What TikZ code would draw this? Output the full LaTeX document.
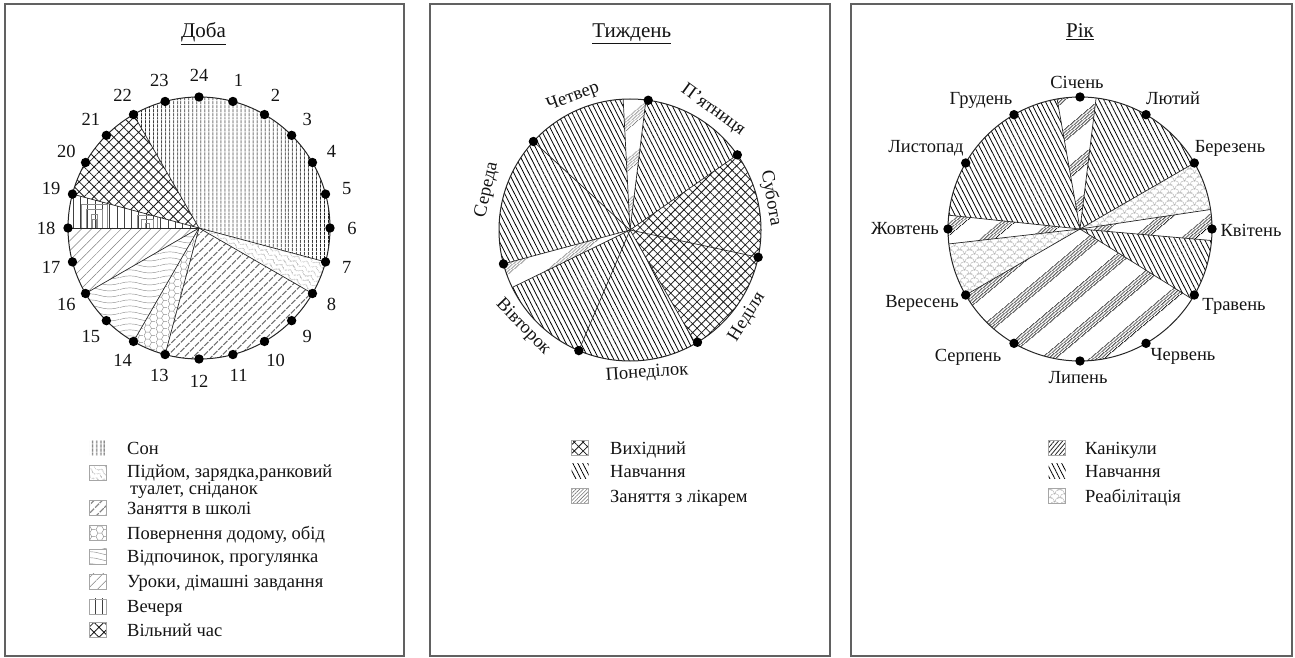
\documentclass[tikz,border=0pt]{standalone}
\usepackage{fontspec}
\setmainfont{Liberation Serif}
\usetikzlibrary{patterns,patterns.meta}
\definecolor{txt}{gray}{0.08}
\definecolor{framec}{gray}{0.38}

\tikzdeclarepattern{
  name=bandlines, type=uncolored,
  bounding box={(0pt,0pt) and (4pt,32pt)},
  tile size={(4pt,32pt)},
  tile transformation={rotate=40},
  code={
    \draw[line width=0.75pt] (-1pt,1pt) -- (5pt,1pt);
    \draw[line width=0.75pt] (-1pt,3.3pt) -- (5pt,3.3pt);
    \draw[line width=0.75pt] (-1pt,5.6pt) -- (5pt,5.6pt);
    \draw[line width=0.75pt] (-1pt,7.9pt) -- (5pt,7.9pt);
    \draw[line width=0.75pt] (-1pt,10.2pt) -- (5pt,10.2pt);
  }
}
\tikzdeclarepattern{
  name=hexcells, type=uncolored,
  bounding box={(0pt,0pt) and (12pt,6.928pt)},
  tile size={(12pt,6.928pt)},
  code={
    \draw[line width=0.45pt] (0pt,3.464pt) -- (2pt,6.928pt) -- (6pt,6.928pt) -- (8pt,3.464pt) -- (6pt,0pt) -- (2pt,0pt) -- cycle;
    \draw[line width=0.45pt] (8pt,3.464pt) -- (12pt,3.464pt);
  }
}
\tikzdeclarepattern{
  name=wavelines, type=uncolored,
  bounding box={(0pt,0pt) and (40pt,6pt)},
  tile size={(40pt,6pt)},
  code={
    \draw[line width=0.5pt] (0pt,3pt) .. controls (6.7pt,5.4pt) and (13.3pt,5.4pt) .. (20pt,3pt) .. controls (26.7pt,0.6pt) and (33.3pt,0.6pt) .. (40pt,3pt);
  }
}
\tikzdeclarepattern{
  name=chevrons, type=uncolored,
  bounding box={(0pt,0pt) and (10pt,5pt)},
  tile size={(10pt,5pt)},
  tile transformation={rotate=-30},
  code={
    \draw[line width=0.45pt] (0pt,0.5pt) -- (5pt,4.5pt) -- (10pt,0.5pt);
  }
}
\tikzdeclarepattern{
  name=scallops, type=uncolored,
  bounding box={(0pt,0pt) and (10pt,8pt)},
  tile size={(10pt,8pt)},
  code={
    \draw[line width=0.45pt] (0pt,0pt) arc[start angle=180,end angle=0,radius=5pt];
    \draw[line width=0.45pt] (-5pt,4pt) arc[start angle=180,end angle=0,radius=5pt] arc[start angle=180,end angle=0,radius=5pt];
    \draw[line width=0.45pt] (-5pt,-4pt) arc[start angle=180,end angle=0,radius=5pt] arc[start angle=180,end angle=0,radius=5pt];
  }
}

\newcommand\pieSec[3]{(0,0) -- ({90-(#1)}:#3pt) arc[start angle={90-(#1)}, end angle={90-(#2)}, radius=#3pt] -- cycle}

\tikzset{
  lbl/.style={font=\fontsize{18.5}{20}\selectfont, text=txt, inner sep=0pt},
  ttl/.style={font=\fontsize{21}{23}\selectfont, text=txt, inner sep=0pt, anchor=base},
  leg/.style={font=\fontsize{18.5}{17}\selectfont, text=txt, inner sep=0pt, anchor=base west, align=left},
  pdot/.style={circle, fill=black, inner sep=0pt, minimum size=9.4pt},
  sepl/.style={draw=black!85, line width=0.7pt},
  ringl/.style={draw=black!85, line width=1pt},
  frm/.style={draw=framec, line width=1.1pt},
  sw/.style={minimum width=17pt, minimum height=15pt, inner sep=0pt, draw=black!35, line width=0.4pt},
  swn/.style={minimum width=17pt, minimum height=15pt, inner sep=0pt},
  pSon/.style={pattern={Lines[angle=90,distance=4pt,line width=0.95pt]}, pattern color=black},
  pUp/.style={pattern=chevrons, pattern color=black!35},
  pSchool/.style={pattern={Lines[angle=45,distance=6.5pt,line width=1.5pt]}, pattern color=black!55},
  pHome/.style={pattern=hexcells, pattern color=black!45},
  pRest/.style={pattern=wavelines, pattern color=black!45},
  pLess/.style={pattern={Lines[angle=45,distance=7pt,line width=0.5pt]}, pattern color=black!50},
  pSup/.style={pattern={Lines[angle=90,distance=7.3pt,line width=0.6pt]}, pattern color=black!75},
  pFree/.style={pattern={Hatch[angle=45,distance=7pt,line width=0.8pt]}, pattern color=black!90},
  pStudy/.style={pattern={Lines[angle=-63,distance=4.4pt,line width=0.8pt]}, pattern color=black},
  pOff/.style={pattern={Hatch[angle=45,distance=6.2pt,line width=0.75pt]}, pattern color=black!90},
  pDoc/.style={pattern=bandlines, pattern color=black!55},
  pHol/.style={pattern=bandlines, pattern color=black},
  pReh/.style={pattern=scallops, pattern color=black!30},
}

\begin{document}
\begin{tikzpicture}[x=1pt,y=1pt]
\useasboundingbox (0,0) rectangle (1295,657);

% frames
\draw[frm] (5,1) rectangle (404,653);
\draw[frm] (430,1) rectangle (830,653);
\draw[frm] (851,1) rectangle (1292,653);

% titles
\node[ttl] (t1) at (203.5,619) {\underline{Доба}};
\node[ttl] (t2) at (631.7,619) {\underline{Тиждень}};
\node[ttl] (t3) at (1080,619.5) {\underline{Рік}};

% ===== Panel 1 : Доба =====
\begin{scope}[shift={(199,429)}]
  \coordinate (c1) at (0,0);
  \fill[pSon] \pieSec{330}{465}{131};
  \fill[pUp] \pieSec{105}{120}{131};
  \fill[pSchool] \pieSec{120}{195}{131};
  \fill[pHome] \pieSec{195}{210}{131};
  \fill[pRest] \pieSec{210}{240}{131};
  \fill[pLess] \pieSec{240}{270}{131};
  \fill[pSup] \pieSec{270}{285}{131};
  \begin{scope}
    \clip \pieSec{270}{285}{131};
    \foreach \k in {0,1,2,3}
      \draw[black!45, line width=0.6pt] ({-118+5*\k},0) -- ({-118+5*\k},{24-5*\k}) -- ({-92-5*\k},{24-5*\k}) -- ({-92-5*\k},0);
    \foreach \k in {0,1,2}
      \draw[black!45, line width=0.6pt] ({-62+4*\k},0) -- ({-62+4*\k},{13-4*\k}) -- ({-42-4*\k},{13-4*\k}) -- ({-42-4*\k},0);
  \end{scope}
  \fill[pFree] \pieSec{285}{330}{131};
  \foreach \a in {330,105,120,195,210,240,270,285}
    \draw[sepl] (c1) -- ({90-\a}:131pt);
  \draw[ringl] (c1) circle[radius=131pt];
  \foreach \k in {1,...,24}{
    \node[pdot] (h\k) at ({90-15*\k}:131pt) {};
    \node[lbl] (n\k) at ({90-15*\k}:153pt) {\k};
  }
\end{scope}

% legend 1
\node[swn, pSon] (s11) at (98,209) {};
\node[sw, pUp] (s12) at (98,184) {};
\node[sw, pSchool] (s13) at (98,149) {};
\node[sw, pHome] (s14) at (98,124) {};
\node[sw, pRest] (s15) at (98,100.7) {};
\node[sw, pLess] (s16) at (98,75.7) {};
\node[sw, pSup] (s17) at (98,50.7) {};
\node[sw, pFree] (s18) at (98,27.3) {};
\node[leg] (l11) at (127,202.7) {Сон};
\node[leg] (l12) at (127,162.7) {Підйом, зарядка,ранковий\\\hspace{3pt}туалет, сніданок};
\node[leg] (l13) at (127,142.7) {Заняття в школі};
\node[leg] (l14) at (127,117.7) {Повернення додому, обід};
\node[leg] (l15) at (127,94.4) {Відпочинок, прогулянка};
\node[leg] (l16) at (127,69.4) {Уроки, дімашні завдання};
\node[leg] (l17) at (127,44.4) {Вечеря};
\node[leg] (l18) at (127,21) {Вільний час};

% ===== Panel 2 : Тиждень =====
\begin{scope}[shift={(630,427)}]
  \coordinate (c2) at (0,0);
  \fill[pDoc] \pieSec{-3}{7}{131};
  \fill[pStudy] \pieSec{7}{55}{131};
  \fill[pOff] \pieSec{55}{150}{131};
  \fill[pStudy] \pieSec{150}{244}{131};
  \fill[pDoc] \pieSec{244}{255}{131};
  \fill[pStudy] \pieSec{255}{357}{131};
  \foreach \a in {-3,7,55,102,150,203,244,255,312.5}
    \draw[sepl] (c2) -- ({90-\a}:131pt);
  \draw[ringl] (c2) circle[radius=131pt];
  \foreach \a [count=\i] in {8,55,102,149,203,255,312.5}
    \node[pdot] (w\i) at ({90-\a}:131pt) {};
\end{scope}
\node[lbl, rotate=-36] (d1) at (713,547) {П’ятниця};
\node[lbl, rotate=-80] (d2) at (771,459) {Субота};
\node[lbl, rotate=58] (d3) at (747,340) {Неділя};
\node[lbl, rotate=4] (d4) at (647,284) {Понеділок};
\node[lbl, rotate=-46] (d5) at (523,330) {Вівторок};
\node[lbl, rotate=77] (d6) at (487,467) {Середа};
\node[lbl, rotate=20] (d7) at (573,560) {Четвер};

% legend 2
\node[sw, pOff] (s21) at (580,209) {};
\node[swn, pStudy] (s22) at (580,186) {};
\node[sw, pattern={Lines[angle=45,distance=2.6pt,line width=0.6pt]}, pattern color=black!55] (s23) at (580,161) {};
\node[leg] (l21) at (610,202.7) {Вихідний};
\node[leg] (l22) at (610,179.4) {Навчання};
\node[leg] (l23) at (610,154.4) {Заняття з лікарем};

% ===== Panel 3 : Рік =====
\begin{scope}[shift={(1080,428)}]
  \coordinate (c3) at (0,0);
  \fill[pHol] \pieSec{-10}{7}{132};
  \fill[pStudy] \pieSec{7}{60}{132};
  \fill[pReh] \pieSec{60}{81.5}{132};
  \fill[pHol] \pieSec{81.5}{95}{132};
  \fill[pStudy] \pieSec{95}{122}{132};
  \fill[pHol] \pieSec{122}{240}{132};
  \fill[pReh] \pieSec{240}{263.5}{132};
  \fill[pHol] \pieSec{263.5}{276}{132};
  \fill[pStudy] \pieSec{276}{350}{132};
  \foreach \a in {-10,7,60,81.5,95,122,240,263.5,276}
    \draw[sepl] (c3) -- ({90-\a}:132pt);
  \draw[ringl] (c3) circle[radius=132pt];
  \foreach \k in {0,...,11}
    \node[pdot] (m\k) at ({90-30*\k}:132pt) {};
\end{scope}
\node[lbl] (y1) at (1077,575) {Січень};
\node[lbl] (y2) at (1173,559) {Лютий};
\node[lbl] (y3) at (1230,509) {Березень};
\node[lbl] (y4) at (1251,427) {Квітень};
\node[lbl] (y5) at (1234,351) {Травень};
\node[lbl] (y6) at (1183,301) {Червень};
\node[lbl] (y7) at (1078,279) {Липень};
\node[lbl] (y8) at (968,300) {Серпень};
\node[lbl] (y9) at (922,354) {Вересень};
\node[lbl] (y10) at (905,428) {Жовтень};
\node[lbl] (y11) at (926,509) {Листопад};
\node[lbl] (y12) at (981,557) {Грудень};

% legend 3
\node[sw, pattern={Lines[angle=50,distance=3.2pt,line width=0.8pt]}, pattern color=black!85] (s31) at (1057,209) {};
\node[swn, pStudy] (s32) at (1057,186) {};
\node[sw, pReh] (s33) at (1057,161) {};
\node[leg] (l31) at (1085,202.7) {Канікули};
\node[leg] (l32) at (1085,179.4) {Навчання};
\node[leg] (l33) at (1085,154.4) {Реабілітація};

\end{tikzpicture}
\end{document}
